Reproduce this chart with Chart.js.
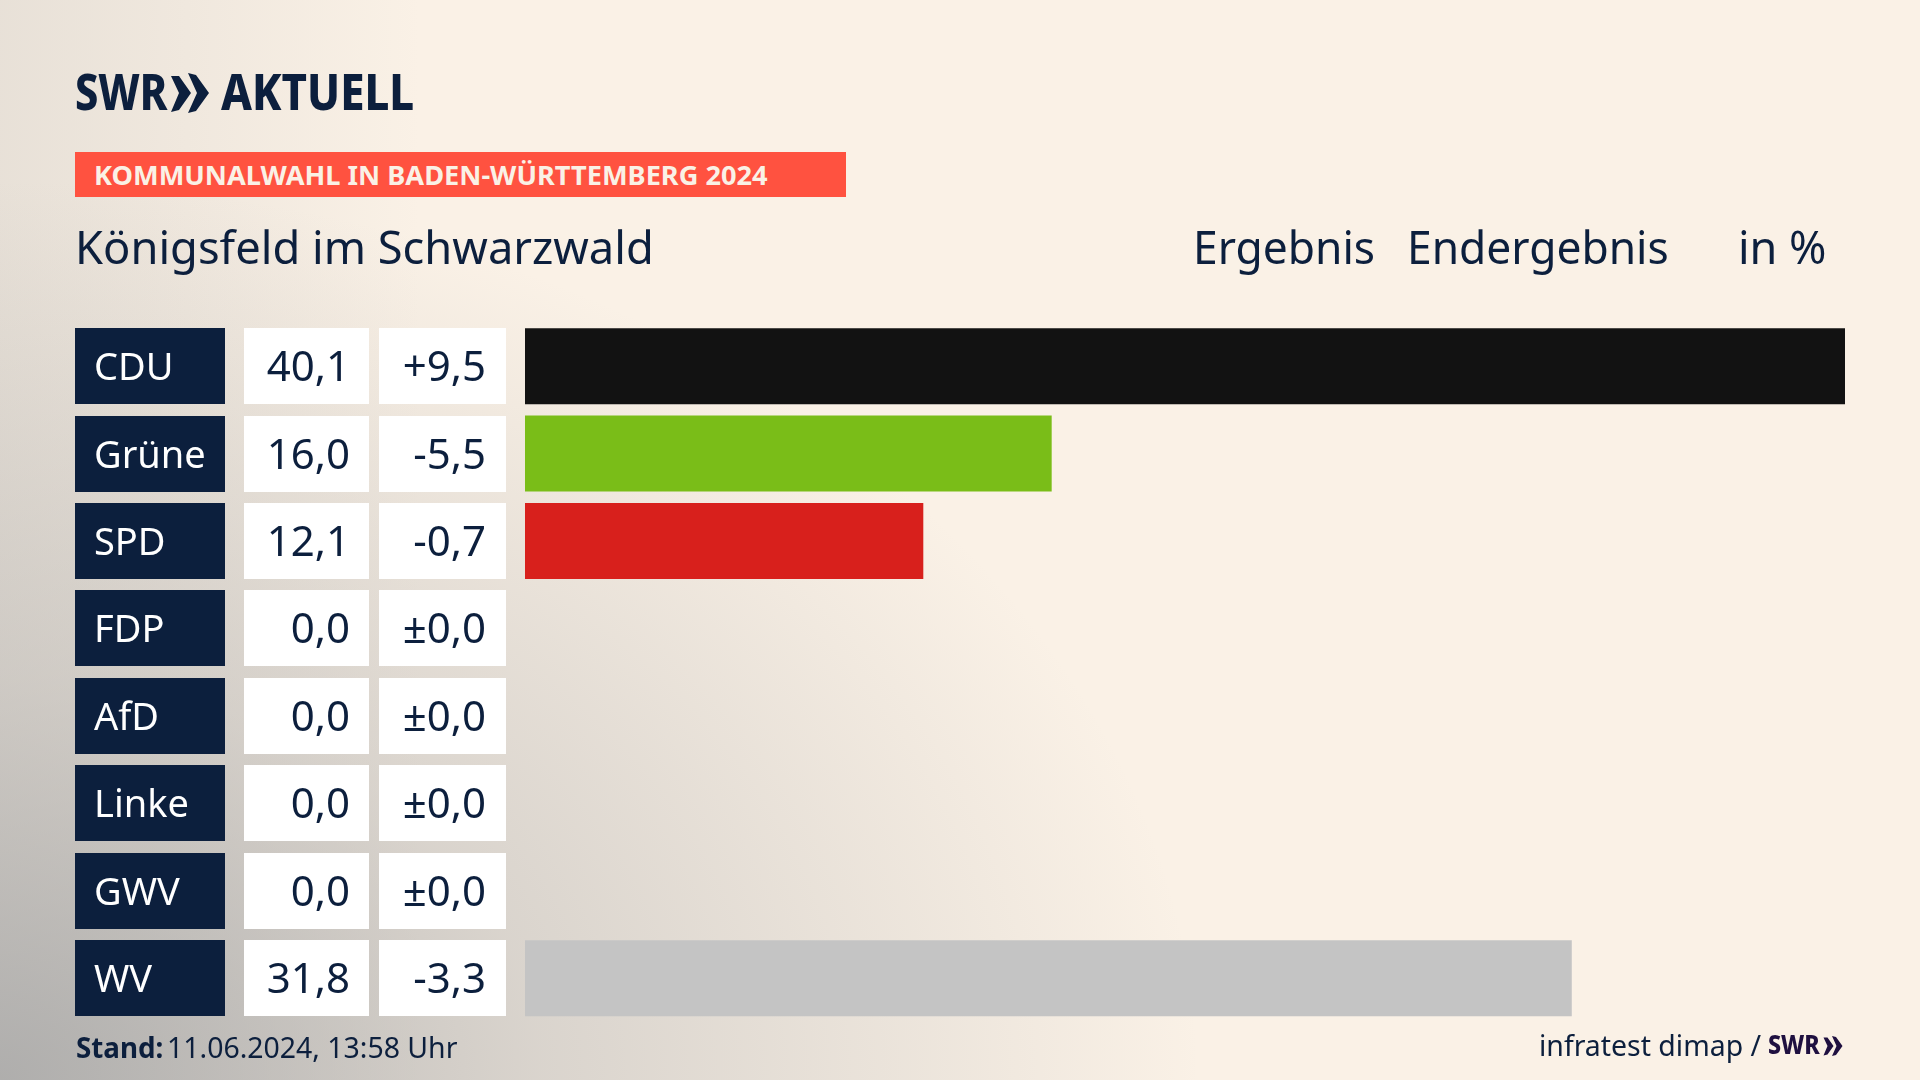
<!DOCTYPE html>
<html lang="de">
<head>
<meta charset="utf-8">
<title>Königsfeld im Schwarzwald</title>
<script src="https://cdn.jsdelivr.net/npm/chart.js@4"></script>
<style>
	html, body { margin: 0; padding: 0; }
	body {
		position: relative;
		width: 1920px;
		height: 1080px;
		overflow: hidden;
		font-family: "Noto Sans", sans-serif;
		color: #0c1f3d;
		background:
			radial-gradient(ellipse 1200px 900px at 0 1080px, rgba(165, 165, 165, 0.85), rgba(165, 165, 165, 0.38) 45%, rgba(165, 165, 165, 0) 100%),
			linear-gradient(90deg, rgba(210, 205, 198, 0.45), rgba(210, 205, 198, 0) 420px),
			#faf1e6;
	}
	canvas { position: absolute; left: 0; top: 0; }
	.txt { position: absolute; white-space: nowrap; line-height: 1; transform-origin: left top; }
	.logo { font-weight: 800; font-size: 50px; }
	svg { position: absolute; }
	#badge { position: absolute; left: 75px; top: 152px; width: 771px; height: 45px; background: #ff5240; }
</style>
</head>
<body>
<canvas id="chart" width="1920" height="1080"></canvas>

<div class="txt logo" style="left:75px;top:66px;transform:scaleX(.83)">SWR</div>
<svg style="left:171px;top:73px" width="38" height="40" viewBox="0 0 38 40" fill="#0c1f3d">
	<polygon points="0,3 8,3 20,20 8,37 0,39 8,20"/>
	<polygon points="17,0 25,2 38,20 25,38 17,40 26,20"/>
</svg>
<div class="txt logo" style="left:221px;top:66px;transform:scaleX(.875)">AKTUELL</div>

<div id="badge"></div>
<div class="txt" style="left:94px;top:161px;font-size:27px;font-weight:700;color:#faf1e6;transform:scaleX(1.007)">KOMMUNALWAHL IN BADEN-WÜRTTEMBERG 2024</div>

<div class="txt" style="left:75px;top:224px;font-size:45px;transform:scaleX(1.006)">Königsfeld im Schwarzwald</div>
<div class="txt" style="left:1193px;top:224px;font-size:45px;transform:scaleX(.985)">Ergebnis</div>
<div class="txt" style="left:1407px;top:224px;font-size:45px;transform:scaleX(.985)">Endergebnis</div>
<div class="txt" style="left:1738px;top:224px;font-size:45px">in %</div>

<div class="txt" style="left:76px;top:1032px;font-size:29px;font-weight:700;transform:scaleX(.957)">Stand:</div>
<div class="txt" style="left:167px;top:1032px;font-size:29px;transform:scaleX(.98)">11.06.2024, 13:58 Uhr</div>
<div class="txt" style="left:1539px;top:1030px;font-size:29px;transform:scaleX(.98)">infratest dimap /</div>
<div class="txt" style="left:1768px;top:1030px;font-size:27px;font-weight:800;color:#1f1040;transform:scaleX(.86)">SWR</div>
<svg style="left:1823px;top:1036px" width="20" height="20" viewBox="0 0 38 40" fill="#1f1040">
	<polygon points="0,3 8,3 20,20 8,37 0,39 8,20"/>
	<polygon points="17,0 25,2 38,20 25,38 17,40 26,20"/>
</svg>

<script>
const parties = ['CDU', 'Grüne', 'SPD', 'FDP', 'AfD', 'Linke', 'GWV', 'WV'];
const results = [40.1, 16.0, 12.1, 0.0, 0.0, 0.0, 0.0, 31.8];
const changes = [9.5, -5.5, -0.7, 0.0, 0.0, 0.0, 0.0, -3.3];
const barColors = ['#121212', '#7abd18', '#d8201c', 'transparent', 'transparent', 'transparent', 'transparent', '#c4c4c4'];

const formatValue = (v) => v.toFixed(1).replace('.', ',');

function formatChange(v) {
	if (v === 0) return '±0,0';
	return (v > 0 ? '+' : '') + formatValue(v);
}

// the three boxes left of each bar, placed on the rows of the y scale
const rowCells = {
	id: 'rowCells',
	beforeDatasetsDraw(chart) {
		const { ctx, scales } = chart;
		const h = 76;
		ctx.save();
		ctx.textBaseline = 'alphabetic';
		parties.forEach((party, i) => {
			const top = Math.round(scales.y.getPixelForValue(i) - h / 2);
			const base = top + 52;

			ctx.fillStyle = '#0c1f3d';
			ctx.fillRect(75, top, 150, h);
			ctx.fillStyle = '#ffffff';
			ctx.fillRect(244, top, 125, h);
			ctx.fillRect(379, top, 127, h);

			ctx.font = '38px "Noto Sans", sans-serif';
			ctx.fillStyle = '#ffffff';
			ctx.textAlign = 'left';
			ctx.fillText(party, 94, base);

			ctx.font = '42px "Noto Sans", sans-serif';
			ctx.fillStyle = '#0c1f3d';
			ctx.textAlign = 'right';
			ctx.fillText(formatValue(results[i]), 350, base + 1);
			ctx.fillText(formatChange(changes[i]), 486, base + 1);
		});
		ctx.restore();
	}
};

new Chart(document.getElementById('chart').getContext('2d'), {
	type: 'bar',
	data: {
		labels: parties,
		datasets: [{
			data: results,
			backgroundColor: barColors,
			borderWidth: 0,
			inflateAmount: 0,
			barThickness: 76
		}]
	},
	options: {
		indexAxis: 'y',
		responsive: false,
		animation: false,
		devicePixelRatio: 1,
		layout: { padding: { left: 525, right: 75, top: 322.48, bottom: 58.1 } },
		scales: {
			x: { display: false, min: 0, max: 40.1 },
			y: { display: false }
		},
		plugins: {
			legend: { display: false },
			tooltip: { enabled: false }
		}
	},
	plugins: [rowCells]
});
</script>
</body>
</html>
